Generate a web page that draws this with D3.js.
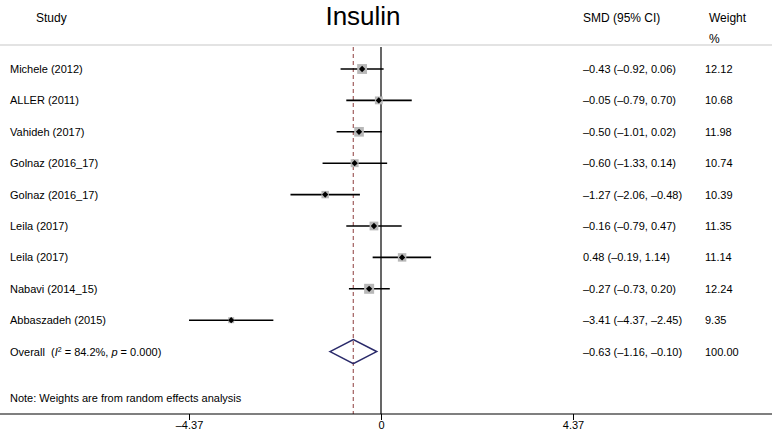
<!DOCTYPE html>
<html>
<head>
<meta charset="utf-8">
<script src="https://cdn.jsdelivr.net/npm/d3@7"></script>
<style>
  body { margin: 0; background: #fff; }
  svg { font-family: "Liberation Sans", Arial, sans-serif; }
</style>
</head>
<body>
<svg id="chart"></svg>
<script>
const studies = ['Michele (2012)', 'ALLER (2011)', 'Vahideh (2017)', 'Golnaz (2016_17)', 'Golnaz (2016_17)',
  'Leila (2017)', 'Leila (2017)', 'Nabavi (2014_15)', 'Abbaszadeh (2015)'];
const smd = [-0.43, -0.05, -0.50, -0.60, -1.27, -0.16, 0.48, -0.27, -3.41];
const lower = [-0.92, -0.79, -1.01, -1.33, -2.06, -0.79, -0.19, -0.73, -4.37];
const upper = [0.06, 0.70, 0.02, 0.14, -0.48, 0.47, 1.14, 0.20, -2.45];
const weights = [12.12, 10.68, 11.98, 10.74, 10.39, 11.35, 11.14, 12.24, 9.35];
const overall = {smd: -0.63, lower: -1.16, upper: -0.10, weight: 100.00, i2: '84.2%', p: '0.000'};
const tickValues = [-4.37, 0, 4.37];

const width = 774, height = 436;
const svg = d3.select('#chart').attr('width', width).attr('height', height);

const x = d3.scaleLinear().domain([-4.37, 4.37]).range([189, 573]);
const rows = d3.range(studies.length + 1);
const y = d3.scalePoint().domain(rows).range([69, 351.6]);
const box = d3.scaleLinear().domain(d3.extent(weights)).range([6, 10]);

const fmt = v => d3.format('.2f')(v).replace('-', '\u2013').replace('\u2212', '\u2013');
const ciText = (m, l, u) => `${fmt(m)} (${fmt(l)}, ${fmt(u)})`;

const plotTop = 45, plotBottom = 414;

// header
svg.append('text').attr('x', 36).attr('y', 22).attr('font-size', 12).text('Study');
svg.append('text').attr('x', 363).attr('y', 25).attr('font-size', 26).attr('text-anchor', 'middle').text('Insulin');
svg.append('text').attr('x', 583).attr('y', 22).attr('font-size', 12).text('SMD (95% CI)');
svg.append('text').attr('x', 709).attr('y', 22).attr('font-size', 12).text('Weight');
svg.append('text').attr('x', 709).attr('y', 43).attr('font-size', 12).text('%');

svg.append('line').attr('x1', 0).attr('x2', 772).attr('y1', plotTop).attr('y2', plotTop)
  .attr('stroke', '#c8c8c8').attr('stroke-width', 1.2);

// zero line and overall dashed line
svg.append('line').attr('x1', x(0)).attr('x2', x(0)).attr('y1', plotTop + 2).attr('y2', plotBottom)
  .attr('stroke', '#000').attr('stroke-width', 1.2);
svg.append('line').attr('x1', x(overall.smd)).attr('x2', x(overall.smd)).attr('y1', plotTop + 2).attr('y2', plotBottom)
  .attr('stroke', '#a86a6a').attr('stroke-width', 1.3).attr('stroke-dasharray', '4,3');

// study rows
const g = svg.selectAll('.study').data(studies).join('g').attr('class', 'study');
g.append('text').attr('x', 10).attr('y', (d, i) => y(i) + 4).attr('font-size', 11).text(d => d);
g.append('line')
  .attr('x1', (d, i) => x(lower[i])).attr('x2', (d, i) => x(upper[i]))
  .attr('y1', (d, i) => y(i)).attr('y2', (d, i) => y(i))
  .attr('stroke', '#000').attr('stroke-width', 1.6);
g.append('rect')
  .attr('x', (d, i) => x(smd[i]) - box(weights[i]) / 2)
  .attr('y', (d, i) => y(i) - box(weights[i]) / 2)
  .attr('width', (d, i) => box(weights[i]))
  .attr('height', (d, i) => box(weights[i]))
  .attr('fill', '#b8b8b8');
g.append('path')
  .attr('d', d3.symbol(d3.symbolSquare, 20))
  .attr('transform', (d, i) => `translate(${x(smd[i])},${y(i)}) rotate(45)`)
  .attr('fill', '#000');
g.append('text').attr('x', 583).attr('y', (d, i) => y(i) + 4).attr('font-size', 11)
  .text((d, i) => ciText(smd[i], lower[i], upper[i]));
g.append('text').attr('x', 705).attr('y', (d, i) => y(i) + 4).attr('font-size', 11)
  .text((d, i) => d3.format('.2f')(weights[i]));

// overall row
const oy = y(studies.length);
const ol = svg.append('text').attr('x', 10).attr('y', oy + 4).attr('font-size', 11);
ol.append('tspan').text('Overall\u00a0\u00a0(');
ol.append('tspan').attr('font-style', 'italic').text('I');
ol.append('tspan').attr('font-size', 7).attr('dy', -4).text('2');
ol.append('tspan').attr('dy', 4).text(` = ${overall.i2}, `);
ol.append('tspan').attr('font-style', 'italic').text('p');
ol.append('tspan').text(` = ${overall.p})`);

svg.append('path')
  .attr('d', `M${x(overall.lower)},${oy} L${x(overall.smd)},${oy - 12} L${x(overall.upper)},${oy} L${x(overall.smd)},${oy + 12} Z`)
  .attr('fill', 'none').attr('stroke', '#2a2a6a').attr('stroke-width', 1.6);
svg.append('text').attr('x', 583).attr('y', oy + 4).attr('font-size', 11)
  .text(ciText(overall.smd, overall.lower, overall.upper));
svg.append('text').attr('x', 705).attr('y', oy + 4).attr('font-size', 11)
  .text(d3.format('.2f')(overall.weight));

svg.append('text').attr('x', 10).attr('y', 402).attr('font-size', 11)
  .text('Note: Weights are from random effects analysis');

// x axis
svg.append('line').attr('x1', 0).attr('x2', 772).attr('y1', plotBottom).attr('y2', plotBottom)
  .attr('stroke', '#000').attr('stroke-width', 1.2);
const axis = svg.append('g').attr('transform', `translate(0,${plotBottom})`)
  .call(d3.axisBottom(x).tickValues(tickValues).tickSize(6).tickFormat(d => d === 0 ? '0' : fmt(d)));
axis.select('.domain').remove();
axis.selectAll('text').attr('font-size', 11).attr('font-family', '"Liberation Sans", Arial, sans-serif').attr('dy', '0.55em');
</script>
</body>
</html>
